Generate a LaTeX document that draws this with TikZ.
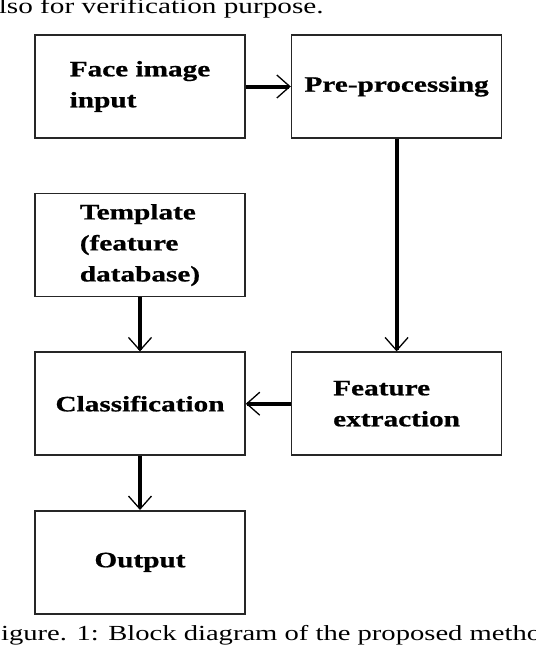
\documentclass[tikz,border=0pt]{standalone}
\usepackage{fontspec}
\newfontfamily\blockfont[FakeStretch=1.33, BoldFeatures={FakeStretch=1.33, FakeBold=0.8}]{Liberation Serif}
\usepackage{tikz}
\usetikzlibrary{arrows.meta,positioning}

\begin{document}
\begin{tikzpicture}[
  x=1pt, y=-1pt,
  every node/.style={font=\blockfont\fontsize{22}{31}\selectfont},
  block/.style={draw=black!85, line width=1.6pt, align=left, minimum width=210pt, minimum height=103pt, inner sep=0pt, font=\blockfont\bfseries\fontsize{22}{31}\selectfont},
  arrow/.style={-{Straight Barb[length=13pt, width=23pt, line width=1.3pt 0]}, line width=4pt}
]
\useasboundingbox (0,0) rectangle (536,646);
\clip (0,0) rectangle (536,646);

% surrounding text, cut by the page edge
\node[anchor=base east, inner sep=0pt] (prevline) at (324,13) {also for verification purpose.};
\node[anchor=base west, inner sep=0pt, font=\blockfont\fontsize{21.5}{26}\selectfont] (caption) at (-15,640) {Figure. 1: Block diagram of the proposed method.};

\node[block] (face) at (140,86.5) {Face image\\input};
\node[block, right=45pt of face] (prep) {Pre-processing};
\node[block, below=54pt of face] (templ) {Template\\(feature\\database)};
\node[block, below=54pt of templ] (classif) {Classification};
\node[block, right=45pt of classif] (featx) {Feature\\extraction};
\node[block, below=54pt of classif] (output) {Output};

\draw[arrow] (face) -- (prep);
\draw[arrow] (prep) -- (featx);
\draw[arrow] (featx) -- (classif);
\draw[arrow] (templ) -- (classif);
\draw[arrow] (classif) -- (output);
\end{tikzpicture}
\end{document}
